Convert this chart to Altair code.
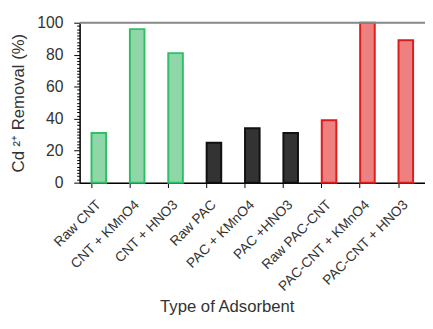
import altair as alt
import pandas as pd

categories = ["Raw CNT", "CNT + KMnO4", "CNT + HNO3", "Raw PAC", "PAC + KMnO4",
              "PAC +HNO3", "Raw PAC-CNT", "PAC-CNT + KMnO4", "PAC-CNT + HNO3"]
values = [31, 96, 81, 25, 34, 31, 39, 100, 89]
groups = ["CNT", "CNT", "CNT", "PAC", "PAC", "PAC", "PAC-CNT", "PAC-CNT", "PAC-CNT"]
y_ticks = list(range(0, 101, 2))
y_max = [100]

df = pd.DataFrame({"cat": categories, "val": values, "grp": groups})

FONT = "Liberation Sans"

x_enc = alt.X("cat:N", sort=categories, title="Type of Adsorbent",
              scale=alt.Scale(paddingInner=0.62, paddingOuter=0.31, align=0.5),
              axis=alt.Axis(labelAngle=-45, labelAlign="right", labelBaseline="middle",
                            labelFontSize=14, labelColor="#333", labelFont=FONT,
                            labelPadding=15, bandPosition=0, tickColor="#000",
                            tickSize=5, domainColor="#000", domainWidth=1.5,
                            labelOverlap=False, labelLimit=300,
                            titleFont=FONT, titleFontSize=17, titleFontWeight="normal",
                            titleColor="#333", titlePadding=5, titleX=150))

y_axis = alt.Axis(values=y_ticks,
                  labelExpr="datum.value % 20 === 0 ? datum.label : ''",
                  labelOverlap=False,
                  tickSize={"condition": {"test": "datum.value % 20 === 0", "value": 6}, "value": 3},
                  tickColor="#000", domainColor="#000", domainWidth=1.5,
                  labelFontSize=16, labelFont=FONT, labelColor="#333",
                  labelPadding=11, grid=False,
                  titleFont=FONT, titleFontSize=17, titleFontWeight="normal",
                  titleColor="#333", titlePadding=10)
y_scale = alt.Scale(domain=[0, 100], nice=False)
Y_TITLE = "Cd ²⁺ Removal (%)"

bars = alt.Chart(df).mark_bar(strokeWidth=2).encode(
    x=x_enc,
    y=alt.Y("val:Q", title=Y_TITLE, scale=y_scale, axis=y_axis),
    fill=alt.Fill("grp:N", legend=None,
                  scale=alt.Scale(domain=["CNT", "PAC", "PAC-CNT"],
                                  range=["#8fd6a8", "#333333", "#ee8080"])),
    stroke=alt.Stroke("grp:N", legend=None,
                      scale=alt.Scale(domain=["CNT", "PAC", "PAC-CNT"],
                                      range=["#2fc065", "#111111", "#d81e1e"])),
)

top = alt.Chart(pd.DataFrame({"val": y_max})).mark_rule(color="#8a8a8a", strokeWidth=2).encode(
    y=alt.Y("val:Q", title=Y_TITLE, scale=y_scale, axis=y_axis)
)

chart = alt.layer(bars, top).properties(
    width=352, height=163,
    autosize=alt.AutoSizeParams(type="none"),
    padding={"left": 73, "top": 12, "right": 0, "bottom": 138},
).configure_view(stroke=None).configure(background="white")

chart.save("out.html", embed_options={"renderer": "svg", "actions": False})
